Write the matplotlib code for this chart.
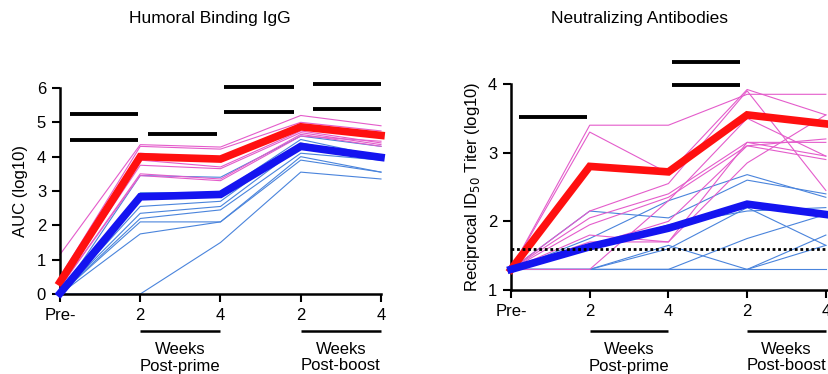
import matplotlib.pyplot as plt
from matplotlib.transforms import blended_transform_factory

plt.rcParams['font.family'] = ['Liberation Sans Narrow', 'Liberation Sans', 'DejaVu Sans']

# --- dati ---
x_pos = [0, 1, 2, 3, 4]
tick_labels = ["Pre-", "2", "4", "2", "4"]

# Humoral Binding IgG (AUC log10)
igg_red_mean = [0.35, 4.0, 3.93, 4.87, 4.62]
igg_blue_mean = [0.02, 2.83, 2.9, 4.3, 3.98]
igg_red_ind = [
    [1.15, 4.35, 4.28, 5.2, 4.9],
    [0.5, 4.3, 4.22, 5.0, 4.75],
    [0.4, 4.1, 3.95, 4.85, 4.6],
    [0.3, 3.9, 3.7, 4.75, 4.4],
    [0.3, 3.75, 3.65, 4.7, 4.35],
    [0.2, 3.5, 3.35, 4.65, 4.3],
    [0.2, 3.45, 3.3, 4.6, 4.45],
]
igg_blue_ind = [
    [0.0, 3.45, 3.4, 4.6, 4.3],
    [0.0, 2.95, 2.95, 4.5, 4.0],
    [0.0, 2.55, 2.7, 4.4, 3.95],
    [0.0, 2.35, 2.55, 4.3, 3.9],
    [0.0, 2.2, 2.45, 4.1, 3.9],
    [0.0, 2.1, 2.1, 3.9, 3.55],
    [0.0, 1.75, 2.1, 4.0, 3.55],
    [0.0, 0.0, 1.5, 3.55, 3.35],
]
igg_sig = [(0.12, 0.97, 5.25), (0.12, 0.97, 4.49), (1.1, 1.96, 4.67),
           (2.04, 2.91, 6.03), (2.04, 2.91, 5.3), (3.15, 4.0, 6.12), (3.15, 4.0, 5.39)]

# Neutralizing Antibodies (ID50 log10)
nab_red_mean = [1.3, 2.8, 2.72, 3.55, 3.42]
nab_blue_mean = [1.3, 1.63, 1.9, 2.25, 2.1]
nab_red_ind = [
    [1.3, 3.4, 3.4, 3.85, 3.85],
    [1.3, 3.3, 2.7, 3.92, 3.55],
    [1.3, 2.15, 2.55, 3.9, 2.45],
    [1.3, 2.05, 2.4, 3.15, 2.95],
    [1.3, 1.95, 2.35, 3.1, 2.9],
    [1.3, 1.8, 1.7, 3.15, 3.15],
    [1.3, 1.7, 1.7, 2.85, 3.55],
    [1.3, 1.3, 2.3, 3.5, 2.95],
    [1.3, 1.65, 2.0, 3.1, 3.2],
]
nab_blue_ind = [
    [1.3, 2.15, 2.05, 2.6, 2.4],
    [1.3, 1.75, 2.3, 2.68, 2.35],
    [1.3, 1.3, 1.65, 1.3, 1.65],
    [1.3, 1.3, 1.6, 2.2, 1.65],
    [1.3, 1.3, 1.3, 1.75, 2.1],
    [1.3, 1.3, 1.3, 1.3, 1.3],
    [1.3, 1.6, 1.95, 2.15, 2.2],
    [1.3, 1.3, 1.3, 1.3, 1.8],
]
nab_sig = [(0.1, 0.97, 3.52), (2.04, 2.91, 4.32), (2.04, 2.91, 3.98)]
nab_cutoff = 1.6

PINK = '#e45ccb'
LBLUE = '#4a84dc'
RED = '#ff1010'
BLUE = '#1414f0'

fig = plt.figure(figsize=(8.29, 3.74), dpi=100)
ax1 = fig.add_axes([60/829, 1-294/374, 321/829, 206/374])
ax2 = fig.add_axes([511/829, 1-290/374, 318/829, 206/374])


def draw_panel(ax, red_ind, blue_ind, red_mean, blue_mean, sig):
    for s in blue_ind:
        ax.plot(x_pos, s, color=LBLUE, lw=0.8, clip_on=False, zorder=2)
    for s in red_ind:
        ax.plot(x_pos, s, color=PINK, lw=0.8, clip_on=False, zorder=2)
    ax.plot(x_pos, red_mean, color=RED, lw=5.5, clip_on=False, zorder=4,
            solid_joinstyle='miter')
    ax.plot(x_pos, blue_mean, color=BLUE, lw=5.5, clip_on=False, zorder=4,
            solid_joinstyle='miter')
    for x0, x1, y in sig:
        ax.plot([x0, x1], [y, y], color='black', lw=2.8, clip_on=False,
                solid_capstyle='butt')
    ax.spines['top'].set_visible(False)
    ax.spines['right'].set_visible(False)
    ax.spines['left'].set_linewidth(1.8)
    ax.spines['bottom'].set_linewidth(1.8)
    ax.tick_params(direction='out', length=6, width=1.5, labelsize=12, pad=4)
    ax.set_xticks(x_pos)
    ax.set_xticklabels(tick_labels)
    # Weeks / Post-prime / Post-boost
    tr = blended_transform_factory(ax.transData, fig.transFigure)
    for a, b, lab in [(1, 2, "Post-prime"), (3, 4, "Post-boost")]:
        ax.plot([a, b], [1-331/374, 1-331/374], color='black', lw=1.8,
                transform=tr, clip_on=False, solid_capstyle='butt')
        ax.text((a+b)/2, 1-349/374, "Weeks", transform=tr, ha='center',
                va='center', fontsize=12)
        ax.text((a+b)/2, 1-366/374, lab, transform=tr, ha='center',
                va='center', fontsize=12)


draw_panel(ax1, igg_red_ind, igg_blue_ind, igg_red_mean, igg_blue_mean, igg_sig)
ax1.set_xlim(0, 4)
ax1.set_ylim(0, 6)
ax1.set_yticks([0, 1, 2, 3, 4, 5, 6])
ax1.set_ylabel("AUC (log10)", fontsize=12, family=['Liberation Sans', 'DejaVu Sans'])
ax1.yaxis.set_label_coords(-0.1, 0.5)
fig.text(210/829, 1-18/374, "Humoral Binding IgG", ha='center', va='center',
         fontsize=12.5, family=['Liberation Sans', 'DejaVu Sans'])

draw_panel(ax2, nab_red_ind, nab_blue_ind, nab_red_mean, nab_blue_mean, nab_sig)
ax2.plot([0, 4.04], [nab_cutoff, nab_cutoff], color='black', lw=2, ls=(0, (1, 1)),
         zorder=5, clip_on=False)
ax2.set_xlim(0, 4.04)
ax2.set_ylim(1, 4)
ax2.set_yticks([1, 2, 3, 4])
ax2.spines['bottom'].set_bounds(0, 4.04)
ax2.set_ylabel("Reciprocal ID$_{50}$ Titer (log10)", fontsize=12,
               family=['Liberation Sans', 'DejaVu Sans'])
ax2.yaxis.set_label_coords(-0.09, 0.5)
fig.text(640/829, 1-18/374, "Neutralizing Antibodies", ha='center', va='center',
         fontsize=12.5, family=['Liberation Sans', 'DejaVu Sans'])

fig.savefig("out.png", dpi=100)
